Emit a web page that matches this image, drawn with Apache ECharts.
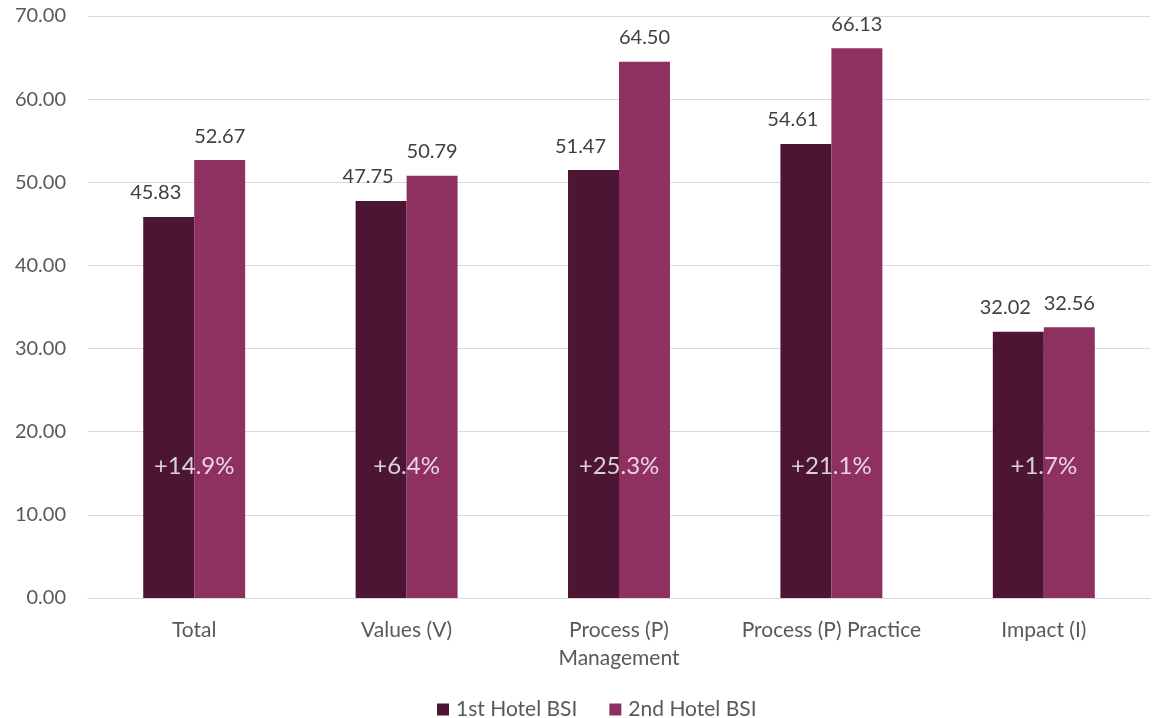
<!DOCTYPE html>
<html>
<head>
<meta charset="utf-8">
<script src="https://cdn.jsdelivr.net/npm/echarts@6/dist/echarts.min.js"></script>
<style>
  html, body { margin: 0; padding: 0; background: #fff; }
  #chart { width: 1152px; height: 718px; }
</style>
</head>
<body>
<div id="chart"></div>
<script>
const categories = ['Total', 'Values (V)', 'Process (P)\nManagement', 'Process (P) Practice', 'Impact (I)'];
const firstBSI = [45.83, 47.75, 51.47, 54.61, 32.02];
const secondBSI = [52.67, 50.79, 64.50, 66.13, 32.56];
const changeLabels = ['+14.9%', '+6.4%', '+25.3%', '+21.1%', '+1.7%'];
const changeLabelLevel = [15.9, 15.9, 15.9, 15.9, 15.9];

const fontFamily = 'Lato, "Open Sans", sans-serif';
const chart = echarts.init(document.getElementById('chart'));

chart.setOption({
    animation: false,
    textStyle: { fontFamily: fontFamily },
    grid: { left: 88, right: 2, top: 16, bottom: 120 },
    legend: {
        top: 694,
        left: 432,
        itemWidth: 12,
        itemHeight: 12,
        itemGap: 32,
        icon: 'rect',
        data: ['1st Hotel BSI', '2nd Hotel BSI'],
        textStyle: { fontSize: 21, color: '#595959', fontFamily: fontFamily, padding: [0, 0, 0, 2] }
    },
    xAxis: {
        type: 'category',
        data: categories,
        axisLine: { lineStyle: { color: '#d9d9d9' } },
        axisTick: { show: false },
        axisLabel: { fontSize: 21, color: '#595959', lineHeight: 28, margin: 18, interval: 0 }
    },
    yAxis: {
        type: 'value',
        min: 0,
        max: 70,
        interval: 10,
        axisLabel: {
            fontSize: 20, color: '#595959', margin: 22,
            formatter: v => v.toFixed(2)
        },
        splitLine: { lineStyle: { color: '#d9d9d9' } }
    },
    series: [
        {
            name: '1st Hotel BSI',
            type: 'bar',
            data: firstBSI,
            barGap: '0%',
            barCategoryGap: '52%',
            itemStyle: { color: '#4C1533' },
            label: {
                show: true, position: 'top', distance: 14, offset: [-13, 0],
                fontSize: 20, color: '#404040',
                formatter: p => p.value.toFixed(2)
            }
        },
        {
            name: '2nd Hotel BSI',
            type: 'bar',
            data: secondBSI,
            itemStyle: { color: '#8E3060' },
            label: {
                show: true, position: 'top', distance: 14,
                fontSize: 20, color: '#404040',
                formatter: p => p.value.toFixed(2)
            }
        },
        {
            name: 'change',
            type: 'scatter',
            data: changeLabelLevel,
            symbolSize: 0,
            silent: true,
            z: 5,
            label: {
                show: true, position: 'inside',
                fontSize: 24, color: '#ffffff',
                textBorderWidth: 0,
                formatter: p => changeLabels[p.dataIndex]
            }
        }
    ]
});
</script>
</body>
</html>
